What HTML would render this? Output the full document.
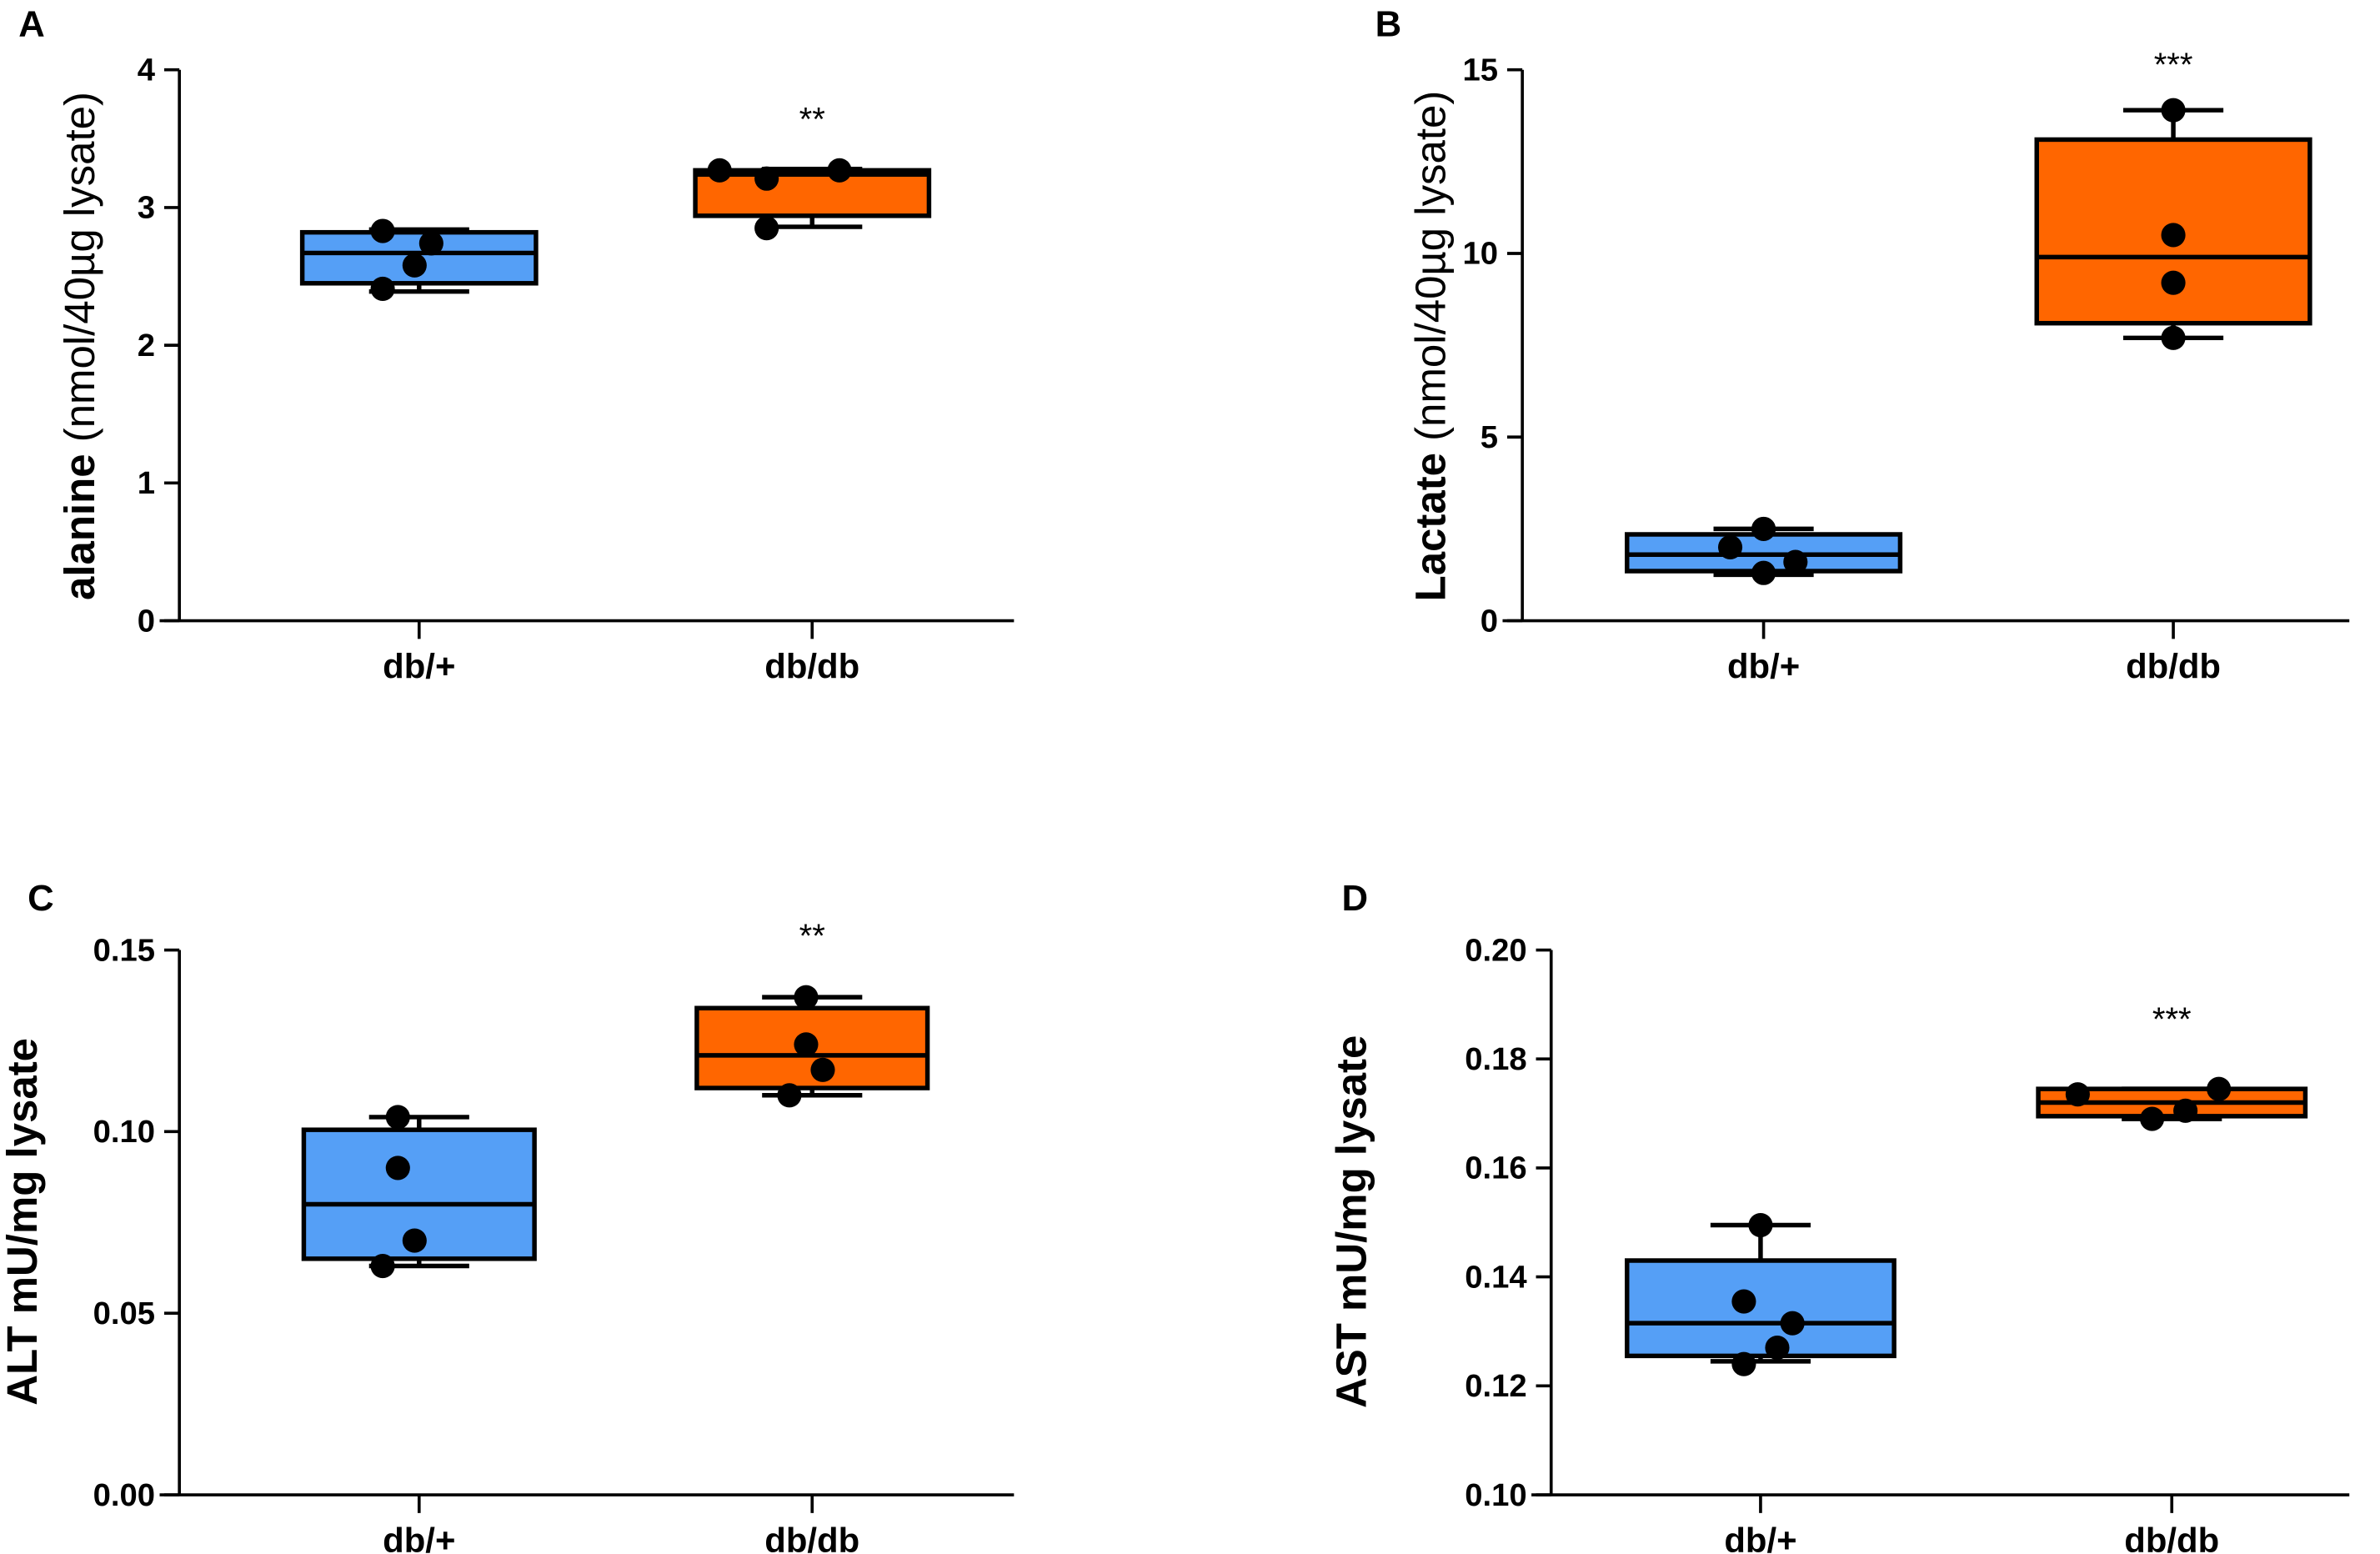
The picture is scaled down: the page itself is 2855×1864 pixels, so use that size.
<!DOCTYPE html>
<html><head><meta charset="utf-8"><style>html,body{margin:0;padding:0;background:#fff}svg{display:block}</style></head>
<body>
<svg id="chart" width="2855" height="1864" viewBox="0 0 1568 1024" xmlns="http://www.w3.org/2000/svg" font-family="Liberation Sans, sans-serif">
</svg>
<script>
const categories = ["db/+", "db/db"];
const aBoxes = [[2.39, 2.45, 2.67, 2.82, 2.84], [2.86, 2.94, 3.24, 3.27, 3.28]];
const aPoints = [[2.83, 2.74, 2.58, 2.41], [3.27, 3.21, 3.27, 2.85]];
const bBoxes = [[1.25, 1.35, 1.8, 2.35, 2.5], [7.7, 8.1, 9.9, 13.1, 13.9]];
const bPoints = [[2.5, 2.0, 1.6, 1.3], [13.9, 10.5, 9.2, 7.7]];
const cBoxes = [[0.063, 0.065, 0.080, 0.1005, 0.104], [0.110, 0.112, 0.121, 0.134, 0.137]];
const cPoints = [[0.104, 0.090, 0.070, 0.063], [0.137, 0.124, 0.117, 0.110]];
const dBoxes = [[0.1245, 0.1255, 0.1315, 0.143, 0.1495], [0.169, 0.1695, 0.172, 0.1745, 0.1745]];
const dPoints = [[0.1495, 0.1355, 0.1315, 0.127, 0.124], [0.1735, 0.169, 0.1705, 0.1745]];
const aTicks = [0, 1, 2, 3, 4];
const bTicks = [0, 5, 10, 15];
const cTicks = [0, 0.05, 0.10, 0.15];
const dTicks = [0.10, 0.12, 0.14, 0.16, 0.18, 0.20];
const stars = ["**", "***", "**", "***"];

const NS = "http://www.w3.org/2000/svg";
const svg = document.getElementById("chart");
function mk(tag, attrs, parent, text) {
  const e = document.createElementNS(NS, tag);
  for (const k in attrs) e.setAttribute(k, attrs[k]);
  if (text !== undefined) e.textContent = text;
  (parent || svg).appendChild(e);
  return e;
}
function panel(cfg) {
  const g = mk("g", {});
  
  
  const yy = v => cfg.y0 - (v - cfg.min) / (cfg.max - cfg.min) * (cfg.y0 - cfg.y1);
  const L = mk("text", {x: cfg.lx, y: cfg.ly, "font-size": 24, "font-weight": "bold"}, g, cfg.letter);
  
  
  const ya = mk("line", {x1: cfg.ax, x2: cfg.ax, y1: cfg.y1, y2: cfg.y0, stroke: "#000", "stroke-width": 2}, g);
  
  
  const xa = mk("line", {x1: cfg.ax - 13, x2: cfg.xend, y1: cfg.y0, y2: cfg.y0, stroke: "#000", "stroke-width": 2}, g);
  
  
  cfg.ticks.forEach(t => {
    const ty = yy(t);
    mk("line", {x1: cfg.ax - 10, x2: cfg.ax, y1: ty, y2: ty, stroke: "#000", "stroke-width": 2}, g);
    const tl = mk("text", {x: cfg.ax - 16, y: ty + 7, "font-size": 21, "font-weight": "bold", "text-anchor": "end"}, g, cfg.fmt(t));
    
    
  });
  const yt = mk("text", {transform: `translate(${cfg.tx},${cfg.ty}) rotate(-90)`, "font-size": 28, "text-anchor": "middle"}, g);
  
  
  mk("tspan", {"font-weight": "bold"}, yt, cfg.t1);
  if (cfg.t2) mk("tspan", {"font-weight": "normal"}, yt, cfg.t2);
  const colors = ["#559ff6", "#ff6600"];
  categories.forEach((c, i) => {
    const cx = cfg.cx[i], hw = cfg.hw, cw = 33;
    mk("line", {x1: cx, x2: cx, y1: cfg.y0, y2: cfg.y0 + 12, stroke: "#000", "stroke-width": 2}, g);
    const cl = mk("text", {x: cx, y: cfg.y0 + 38, "font-size": 23, "font-weight": "bold", "text-anchor": "middle"}, g, c);
    
    
    const b = cfg.boxes[i];
    const w = mk("path", {d: `M${cx},${yy(b[0])}V${yy(b[1])}M${cx},${yy(b[3])}V${yy(b[4])}M${cx-cw},${yy(b[0])}H${cx+cw}M${cx-cw},${yy(b[4])}H${cx+cw}`, stroke: "#000", "stroke-width": 3, fill: "none"}, g);
    
    
    const r = mk("rect", {x: cx - hw, y: yy(b[3]), width: 2 * hw, height: yy(b[1]) - yy(b[3]), fill: colors[i], stroke: "#000", "stroke-width": 3}, g);
    
    
    mk("line", {x1: cx - hw, x2: cx + hw, y1: yy(b[2]), y2: yy(b[2]), stroke: "#000", "stroke-width": 3}, g);
    cfg.points[i].forEach((p, k) => {
      const pt = mk("circle", {cx: cx + cfg.dx[i][k], cy: yy(p), r: 8, fill: "#000"}, g);
      
      
    });
  });
  const st = mk("text", {x: cfg.cx[1], y: cfg.sy, "font-size": 22, "text-anchor": "middle"}, g, cfg.star);
  
  
}
panel({name: "panel-a-alanine", letter: "A", lx: 12, ly: 24, ax: 118, xend: 668, y0: 409, y1: 46, min: 0, max: 4,
  ticks: aTicks, fmt: t => String(t), tx: 62, ty: 228, t1: "alanine ", t2: "(nmol/40µg lysate)",
  cx: [276, 535], hw: 77, boxes: aBoxes, points: aPoints, dx: [[-24, 8, -3, -24], [-61, -30, 18, -30]], star: stars[0], sy: 86});
panel({name: "panel-b-lactate", letter: "B", lx: 906, ly: 24, ax: 1003, xend: 1548, y0: 409, y1: 46, min: 0, max: 15,
  ticks: bTicks, fmt: t => String(t), tx: 952, ty: 228, t1: "Lactate ", t2: "(nmol/40µg lysate)",
  cx: [1162, 1432], hw: 90, boxes: bBoxes, points: bPoints, dx: [[0, -22, 21, 0], [0, 0, 0, 0]], star: stars[1], sy: 50});
panel({name: "panel-c-alt", letter: "C", lx: 18, ly: 600, ax: 118, xend: 668, y0: 985, y1: 626, min: 0, max: 0.15,
  ticks: cTicks, fmt: t => t.toFixed(2), tx: 24, ty: 805, t1: "ALT mU/mg lysate", t2: "",
  cx: [276, 535], hw: 76, boxes: cBoxes, points: cPoints, dx: [[-14, -14, -3, -24], [-4, -4, 7, -15]], star: stars[2], sy: 624});
panel({name: "panel-d-ast", letter: "D", lx: 884, ly: 600, ax: 1022, xend: 1548, y0: 985, y1: 626, min: 0.10, max: 0.20,
  ticks: dTicks, fmt: t => t.toFixed(2), tx: 900, ty: 805, t1: "AST mU/mg lysate", t2: "",
  cx: [1160, 1431], hw: 88, boxes: dBoxes, points: dPoints, dx: [[0, -11, 21, 11, -11], [-62, -13, 9, 31]], star: stars[3], sy: 679});
</script>
</body></html>
